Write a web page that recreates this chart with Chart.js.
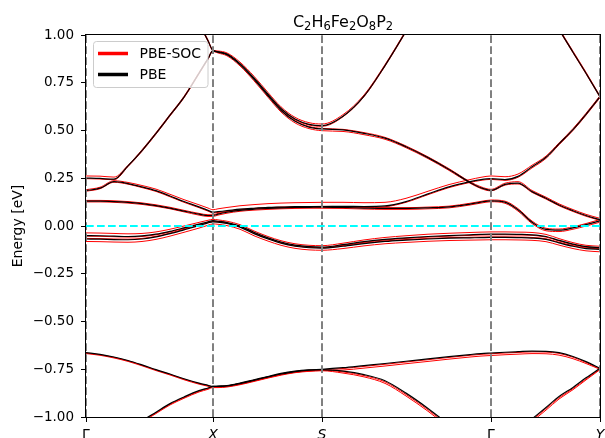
<!DOCTYPE html>
<html>
<head>
<meta charset="utf-8">
<title>Band structure</title>
<script src="https://cdn.jsdelivr.net/npm/chart.js@4.4.0/dist/chart.umd.min.js"></script>
<style>
  html, body { margin: 0; padding: 0; background: #fff; }
</style>
</head>
<body>
<canvas id="bands" width="605" height="438"></canvas>
<script>
// k-path positions (Γ-X-S-Γ-Y) and the high-symmetry ticks
const kpts = [0, 0.14, 0.28, 0.42, 0.56, 0.70, 0.84, 0.98, 1.13, 1.22, 1.27, 1.32,
  1.41, 1.54, 1.68, 1.82, 1.95, 2.09, 2.23, 2.36,
  2.57, 2.78, 2.99, 3.20, 3.42, 3.63, 3.84, 3.95, 4.05,
  4.19, 4.32, 4.46, 4.60, 4.73, 4.87, 5.00, 5.14];
const kTicks = [0, 1.27, 2.36, 4.05, 5.14];
const kLabels = ['Γ', 'X', 'S', 'Γ', 'Y'];
const eTicks = [-1, -0.75, -0.5, -0.25, 0, 0.25, 0.5, 0.75, 1];

// PBE bands (eV), one value per k-point, null = out of the energy window
const pbeB0b = [null, null, null, -1.07, -1.02, -0.975, -0.93, -0.895, -0.862, -0.848, -0.84, -0.84,
  -0.837, -0.825, -0.808, -0.79, -0.775, -0.762, -0.755, -0.752,
  -0.76, -0.778, -0.81, -0.875, -0.955, -1.04, null, null, null,
  null, null, -1.01, -0.95, -0.893, -0.845, -0.795, -0.745];
const pbeB0a = [-0.663, -0.672, -0.686, -0.704, -0.727, -0.752, -0.775, -0.8, -0.823, -0.834, -0.84, -0.838,
  -0.835, -0.822, -0.805, -0.788, -0.772, -0.76, -0.753, -0.75,
  -0.742, -0.731, -0.72, -0.708, -0.696, -0.684, -0.673, -0.668, -0.665,
  -0.661, -0.658, -0.655, -0.656, -0.663, -0.683, -0.71, -0.745];
const pbeB1 = [-0.068, -0.069, -0.071, -0.072, -0.068, -0.057, -0.04, -0.02, 0.002, 0.016, 0.022, 0.02,
  0.013, -0.006, -0.04, -0.068, -0.09, -0.106, -0.114, -0.116,
  -0.106, -0.092, -0.081, -0.074, -0.068, -0.064, -0.062, -0.061, -0.06,
  -0.06, -0.061, -0.063, -0.07, -0.088, -0.106, -0.118, -0.122];
const pbeB2 = [-0.05, -0.051, -0.053, -0.055, -0.052, -0.043, -0.028, -0.01, 0.01, 0.022, 0.028, 0.025,
  0.018, 0.0, -0.033, -0.062, -0.084, -0.1, -0.108, -0.11,
  -0.098, -0.082, -0.07, -0.062, -0.055, -0.05, -0.046, -0.044, -0.043,
  -0.043, -0.044, -0.046, -0.055, -0.075, -0.095, -0.108, -0.113];
const pbeB3 = [0.13, 0.13, 0.128, 0.124, 0.117, 0.107, 0.094, 0.078, 0.062, 0.055, 0.055, 0.062,
  0.072, 0.082, 0.088, 0.092, 0.095, 0.097, 0.098, 0.099,
  0.097, 0.094, 0.092, 0.092, 0.095, 0.1, 0.115, 0.125, 0.132,
  0.125, 0.085, 0.02, -0.018, -0.022, -0.01, 0.007, 0.027];
const pbeB4 = [0.185, 0.198, 0.232, 0.222, 0.205, 0.185, 0.157, 0.128, 0.1, 0.082, 0.072, 0.075,
  0.08, 0.088, 0.093, 0.097, 0.099, 0.101, 0.102, 0.102,
  0.103, 0.102, 0.105, 0.128, 0.168, 0.205, 0.232, 0.243, 0.248,
  0.243, 0.26, 0.31, 0.36, 0.43, 0.505, 0.585, 0.677];
const pbeB5 = [0.251, 0.249, 0.245, 0.315, 0.395, 0.485, 0.58, 0.675, 0.8, 0.876, 0.918, 0.91,
  0.897, 0.845, 0.768, 0.682, 0.605, 0.548, 0.518, 0.508,
  0.503, 0.485, 0.46, 0.415, 0.358, 0.296, 0.228, 0.2, 0.187,
  0.218, 0.225, 0.18, 0.145, 0.11, 0.08, 0.055, 0.033];
const pbeB6 = [null, null, null, null, null, null, null, 1.2, 1.06, 0.97, 0.918, 0.912,
  0.9, 0.85, 0.775, 0.69, 0.615, 0.56, 0.532, 0.525,
  0.575, 0.68, 0.84, 1.02, 1.22, null, null, null, null,
  null, null, null, 1.15, 1.03, 0.91, 0.8, 0.677];

// PBE-SOC bands (eV), two spin-split branches per PBE band
const socB0bA = [null, null, null, -1.073, -1.023, -0.978, -0.933, -0.898, -0.865, -0.851, -0.843, -0.843,
  -0.84, -0.828, -0.811, -0.793, -0.778, -0.765, -0.758, -0.755,
  -0.764, -0.783, -0.816, -0.882, -0.962, -1.047, null, null, null,
  null, null, -1.016, -0.956, -0.899, -0.851, -0.801, -0.749];
const socB0bB = [null, null, null, -1.077, -1.027, -0.982, -0.937, -0.902, -0.869, -0.855, -0.846, -0.846,
  -0.843, -0.831, -0.814, -0.796, -0.781, -0.768, -0.761, -0.758,
  -0.77, -0.79, -0.824, -0.89, -0.97, -1.055, null, null, null,
  null, null, -1.024, -0.964, -0.906, -0.857, -0.806, -0.752];
const socB0aA = [-0.665, -0.674, -0.688, -0.706, -0.729, -0.754, -0.777, -0.802, -0.825, -0.836, -0.842, -0.84,
  -0.837, -0.824, -0.807, -0.79, -0.774, -0.762, -0.755, -0.752,
  -0.746, -0.735, -0.724, -0.712, -0.7, -0.688, -0.677, -0.672, -0.669,
  -0.665, -0.662, -0.659, -0.66, -0.667, -0.687, -0.714, -0.748];
const socB0aB = [-0.668, -0.677, -0.691, -0.709, -0.732, -0.757, -0.78, -0.805, -0.828, -0.839, -0.845, -0.843,
  -0.84, -0.828, -0.811, -0.794, -0.778, -0.766, -0.759, -0.756,
  -0.754, -0.744, -0.733, -0.721, -0.709, -0.697, -0.686, -0.681, -0.678,
  -0.674, -0.671, -0.668, -0.669, -0.676, -0.695, -0.72, -0.75];
const socB1A = [-0.065, -0.066, -0.068, -0.069, -0.065, -0.054, -0.037, -0.017, 0.005, 0.019, 0.025, 0.023,
  0.016, -0.003, -0.037, -0.065, -0.087, -0.103, -0.111, -0.113,
  -0.103, -0.089, -0.078, -0.071, -0.065, -0.061, -0.059, -0.058, -0.057,
  -0.057, -0.058, -0.06, -0.067, -0.085, -0.103, -0.115, -0.119];
const socB1B = [-0.081, -0.082, -0.084, -0.085, -0.081, -0.07, -0.053, -0.033, -0.011, 0.004, 0.011, 0.009,
  0.002, -0.017, -0.051, -0.079, -0.101, -0.117, -0.125, -0.127,
  -0.118, -0.104, -0.093, -0.086, -0.08, -0.076, -0.074, -0.073, -0.072,
  -0.072, -0.073, -0.075, -0.082, -0.1, -0.118, -0.13, -0.135];
const socB2A = [-0.036, -0.037, -0.039, -0.041, -0.039, -0.031, -0.017, 0.0, 0.019, 0.03, 0.035, 0.032,
  0.025, 0.007, -0.026, -0.055, -0.077, -0.093, -0.101, -0.103,
  -0.09, -0.073, -0.06, -0.051, -0.043, -0.038, -0.034, -0.032, -0.031,
  -0.031, -0.032, -0.034, -0.044, -0.066, -0.087, -0.101, -0.106];
const socB2B = [-0.053, -0.054, -0.056, -0.058, -0.055, -0.046, -0.031, -0.013, 0.007, 0.019, 0.025, 0.022,
  0.015, -0.003, -0.036, -0.065, -0.087, -0.103, -0.111, -0.113,
  -0.101, -0.085, -0.073, -0.065, -0.058, -0.053, -0.049, -0.047, -0.046,
  -0.046, -0.047, -0.049, -0.058, -0.078, -0.098, -0.111, -0.116];
const socB3A = [0.134, 0.134, 0.132, 0.128, 0.121, 0.111, 0.098, 0.082, 0.066, 0.059, 0.059, 0.066,
  0.076, 0.086, 0.092, 0.096, 0.099, 0.101, 0.102, 0.103,
  0.101, 0.098, 0.096, 0.096, 0.099, 0.104, 0.119, 0.129, 0.136,
  0.13, 0.091, 0.026, -0.012, -0.016, -0.004, 0.013, 0.034];
const socB3B = [0.126, 0.126, 0.124, 0.12, 0.113, 0.103, 0.09, 0.074, 0.057, 0.05, 0.05, 0.057,
  0.067, 0.077, 0.083, 0.087, 0.09, 0.092, 0.093, 0.093,
  0.092, 0.089, 0.087, 0.087, 0.09, 0.095, 0.11, 0.12, 0.127,
  0.119, 0.078, 0.013, -0.025, -0.029, -0.017, 0.0, 0.02];
const socB4A = [0.19, 0.203, 0.237, 0.228, 0.212, 0.193, 0.166, 0.138, 0.111, 0.094, 0.085, 0.09,
  0.097, 0.106, 0.112, 0.117, 0.12, 0.122, 0.123, 0.124,
  0.124, 0.122, 0.124, 0.145, 0.182, 0.217, 0.243, 0.255, 0.262,
  0.258, 0.272, 0.318, 0.366, 0.435, 0.51, 0.59, 0.682];
const socB4B = [0.182, 0.195, 0.229, 0.219, 0.201, 0.181, 0.153, 0.124, 0.096, 0.078, 0.068, 0.071,
  0.076, 0.084, 0.089, 0.093, 0.095, 0.097, 0.098, 0.098,
  0.099, 0.098, 0.101, 0.124, 0.164, 0.201, 0.228, 0.239, 0.244,
  0.239, 0.255, 0.304, 0.354, 0.425, 0.5, 0.58, 0.672];
const socB5A = [0.262, 0.261, 0.256, 0.318, 0.399, 0.489, 0.584, 0.679, 0.804, 0.879, 0.92, 0.913,
  0.9, 0.849, 0.771, 0.685, 0.608, 0.551, 0.521, 0.511,
  0.506, 0.489, 0.464, 0.419, 0.362, 0.3, 0.232, 0.205, 0.192,
  0.224, 0.232, 0.186, 0.151, 0.116, 0.086, 0.061, 0.04];
const socB5B = [0.248, 0.246, 0.242, 0.311, 0.391, 0.481, 0.576, 0.671, 0.796, 0.872, 0.915, 0.906,
  0.891, 0.838, 0.76, 0.674, 0.597, 0.54, 0.51, 0.499,
  0.495, 0.478, 0.454, 0.41, 0.353, 0.291, 0.224, 0.196, 0.184,
  0.214, 0.22, 0.176, 0.141, 0.106, 0.076, 0.051, 0.03];
const socB6A = [null, null, null, null, null, null, null, 1.204, 1.064, 0.974, 0.92, 0.916,
  0.906, 0.858, 0.784, 0.699, 0.624, 0.569, 0.541, 0.534,
  0.583, 0.686, 0.845, 1.025, 1.225, null, null, null, null,
  null, null, null, 1.155, 1.035, 0.915, 0.805, 0.68];
const socB6B = [null, null, null, null, null, null, null, 1.197, 1.057, 0.967, 0.916, 0.91,
  0.898, 0.848, 0.772, 0.687, 0.612, 0.557, 0.529, 0.522,
  0.572, 0.677, 0.837, 1.017, 1.217, null, null, null, null,
  null, null, null, 1.147, 1.027, 0.907, 0.797, 0.674];

const pbeBands = [pbeB0b, pbeB0a, pbeB1, pbeB2, pbeB3, pbeB4, pbeB5, pbeB6];
const socBands = [socB0bA, socB0bB, socB0aA, socB0aB, socB1A, socB1B, socB2A, socB2B,
  socB3A, socB3B, socB4A, socB4B, socB5A, socB5B, socB6A, socB6B];

// formula title, pieces flagged true are subscripts
const titleParts = [['C', false], ['2', true], ['H', false], ['6', true], ['Fe', false],
  ['2', true], ['O', false], ['8', true], ['P', false], ['2', true]];

const FONT = 'DejaVu Sans';
Chart.defaults.font.family = FONT;
Chart.defaults.color = '#000';

function bandDataset(energies, colour, width) {
  return {
    data: kpts.map((k, i) => ({ x: k, y: energies[i] })),
    borderColor: colour,
    borderWidth: width,
    pointRadius: 0,
    cubicInterpolationMode: 'monotone',
    fill: false,
  };
}

function dashedLine(points, colour) {
  return {
    data: points,
    borderColor: colour,
    borderWidth: 2,
    borderDash: [7.7, 3.3],
    pointRadius: 0,
    tension: 0,
    fill: false,
  };
}

// first dataset is painted last, so overlays go first, SOC bands at the bottom
const datasets = [];
datasets.push(dashedLine([{ x: 0, y: 0 }, { x: kTicks[kTicks.length - 1], y: 0 }], '#00ffff'));
kTicks.forEach(k => datasets.push(dashedLine([{ x: k, y: -1 }, { x: k, y: 1 }], '#808080')));
pbeBands.forEach(b => datasets.push(bandDataset(b, '#000000', 1.2)));
socBands.forEach(b => datasets.push(bandDataset(b, '#ff0000', 1.0)));

const decorations = {
  id: 'decorations',
  beforeDatasetsDraw(chart) {
    const { ctx, chartArea: a } = chart;
    ctx.save();
    ctx.strokeStyle = '#000';
    ctx.lineWidth = 1;
    ctx.strokeRect(a.left - 0.5, a.top - 0.5, a.right - a.left + 1, a.bottom - a.top + 1);
    ctx.restore();
  },
  afterDraw(chart) {
    const { ctx, chartArea: a } = chart;
    ctx.save();

    // title with subscripts, centred over the axes
    const mainFont = '16px "' + FONT + '"';
    const subFont = '11.5px "' + FONT + '"';
    let total = 0;
    const widths = titleParts.map(([t, sub]) => {
      ctx.font = sub ? subFont : mainFont;
      const w = ctx.measureText(t).width;
      total += w;
      return w;
    });
    let x = (a.left + a.right) / 2 - total / 2;
    ctx.fillStyle = '#000';
    ctx.textBaseline = 'alphabetic';
    ctx.textAlign = 'left';
    titleParts.forEach(([t, sub], i) => {
      ctx.font = sub ? subFont : mainFont;
      ctx.fillText(t, x, sub ? 29.5 : 26.5);
      x += widths[i];
    });

    // legend box in the upper left corner
    const bx = 93.5, by = 41.5, bw = 114.5, bh = 46, r = 3;
    ctx.beginPath();
    ctx.moveTo(bx + r, by);
    ctx.arcTo(bx + bw, by, bx + bw, by + bh, r);
    ctx.arcTo(bx + bw, by + bh, bx, by + bh, r);
    ctx.arcTo(bx, by + bh, bx, by, r);
    ctx.arcTo(bx, by, bx + bw, by, r);
    ctx.closePath();
    ctx.fillStyle = 'rgba(255,255,255,0.8)';
    ctx.fill();
    ctx.strokeStyle = '#cccccc';
    ctx.lineWidth = 1;
    ctx.stroke();

    const entries = [['PBE-SOC', '#ff0000', 53.5], ['PBE', '#000000', 74.5]];
    ctx.font = '14px "' + FONT + '"';
    ctx.textBaseline = 'middle';
    entries.forEach(([label, colour, y]) => {
      ctx.beginPath();
      ctx.moveTo(98, y);
      ctx.lineTo(128, y);
      ctx.strokeStyle = colour;
      ctx.lineWidth = 3.5;
      ctx.stroke();
      ctx.fillStyle = '#000';
      ctx.fillText(label, 139.5, y + 0.5);
    });
    ctx.restore();
  }
};

new Chart(document.getElementById('bands'), {
  type: 'line',
  data: { datasets },
  plugins: [decorations],
  options: {
    responsive: false,
    animation: false,
    devicePixelRatio: 1,
    events: [],
    layout: { padding: { top: 35, right: 5, left: 0, bottom: 0 } },
    plugins: {
      legend: { display: false },
      title: { display: false },
      tooltip: { enabled: false },
    },
    scales: {
      x: {
        type: 'linear',
        min: 0,
        max: kTicks[kTicks.length - 1],
        afterBuildTicks: axis => { axis.ticks = kTicks.map(v => ({ value: v })); },
        afterFit: axis => {
          axis.height = 21;
          axis.paddingLeft = 0;
          axis.paddingRight = 0;
        },
        ticks: {
          autoSkip: false,
          maxRotation: 0,
          padding: 5,
          color: '#000',
          callback: (v, i) => kLabels[i],
          font: ctx => ({
            family: FONT,
            size: 14,
            style: kLabels[ctx.index] === 'Γ' ? 'normal' : 'italic',
          }),
        },
        grid: { drawOnChartArea: false, drawTicks: true, tickLength: 5, color: '#000', lineWidth: 1 },
        border: { display: false },
      },
      y: {
        type: 'linear',
        min: -1,
        max: 1,
        afterBuildTicks: axis => { axis.ticks = eTicks.map(v => ({ value: v })); },
        afterFit: axis => {
          axis.width = 86;
          axis.paddingTop = 0;
          axis.paddingBottom = 0;
        },
        ticks: {
          padding: 7,
          color: '#000',
          font: { family: FONT, size: 13.5 },
          callback: v => (v < 0 ? '\u2212' : '') + Math.abs(v).toFixed(2),
        },
        title: {
          display: true,
          text: 'Energy [eV]',
          color: '#000',
          font: { family: FONT, size: 14 },
          padding: { top: 10, bottom: 0 },
        },
        grid: { drawOnChartArea: false, drawTicks: true, tickLength: 5, color: '#000', lineWidth: 1 },
        border: { display: false },
      },
    },
  },
});
</script>
</body>
</html>
